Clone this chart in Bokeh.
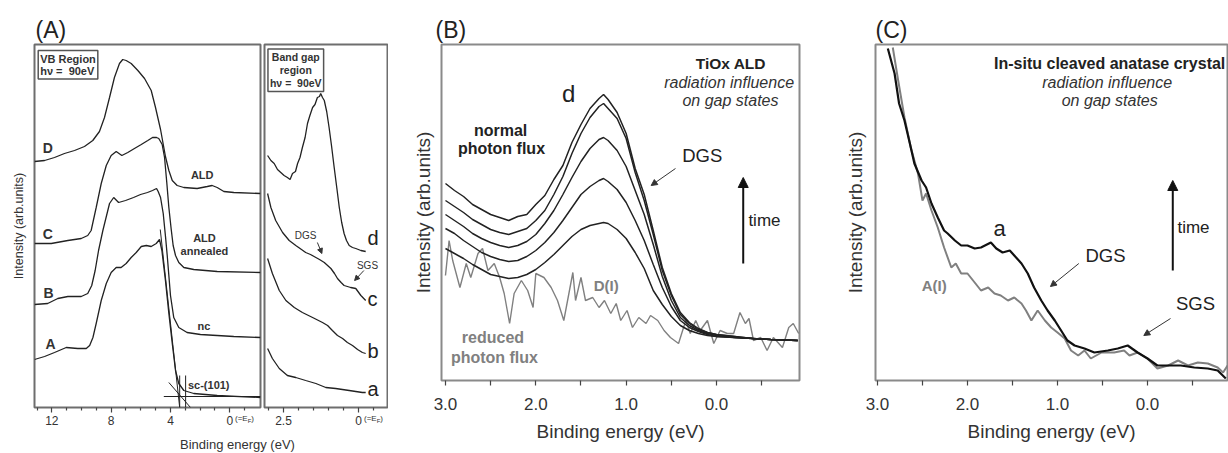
from bokeh.plotting import figure
from bokeh.models import (Range1d, FixedTicker, Label, Arrow, NormalHead, Div,
                          CustomJSTickFormatter, PrintfTickFormatter)
from bokeh.layouts import row, column
from bokeh.embed import file_html
from bokeh.resources import INLINE

FONT = "Liberation Sans"

# ---------------- Panel A : VB region (binding energy eV, intensity arb.) -------------
VB_D_E = [13.17, 12.49, 11.82, 11.15, 10.47, 9.80, 9.24, 8.79, 8.45, 8.11, 7.78, 7.44, 7.22, 6.99,
          6.65, 6.20, 5.75, 5.30, 5.01, 4.67, 4.34, 4.11, 3.88, 3.55, 3.10, 2.20, 1.52, 1.19, 0.85,
          0.40, -0.27, -2.07]
VB_D_I = [246, 247, 250, 254, 257, 261, 267, 276, 290, 310, 330, 344, 348, 347,
          344, 337, 329, 317, 300, 278, 251, 237, 227, 222, 220, 219, 221, 222, 220,
          216, 215, 214]

VB_C_E = [13.17, 12.04, 10.92, 10.02, 9.58, 9.35, 9.01, 8.67, 8.33, 8.00, 7.66, 7.28, 6.88, 6.43,
          5.97, 5.53, 5.21, 4.94, 4.79, 4.56, 4.40, 4.25, 4.11, 3.95, 3.82, 3.66, 3.44, 3.10,
          2.43, 0.85, -2.07]
VB_C_I = [164, 164, 167, 169, 172, 177, 200, 224, 242, 252, 256, 252, 255, 259,
          263, 267, 270, 270, 269, 263, 250, 225, 200, 178, 162, 152, 145, 140,
          138, 136, 135]

VB_B_E = [13.17, 12.28, 11.60, 10.92, 10.02, 9.58, 9.31, 9.08, 8.85, 8.56, 8.11, 7.83, 7.50, 7.03,
          6.49, 6.02, 5.55, 5.21, 4.94, 4.83, 4.67, 4.49, 4.33, 4.22, 4.11, 4.00, 3.78, 3.44,
          2.88, 1.98, -0.27, -2.07]
VB_B_I = [103, 104, 109, 111, 111, 114, 122, 137, 157, 177, 204, 210, 205, 207,
          210, 213, 215, 217, 219, 216, 210, 194, 170, 152, 132, 112, 90, 80,
          75, 73, 71, 70]

VB_A_E = [13.17, 12.49, 11.82, 11.03, 10.25, 9.68, 9.45, 9.23, 9.01, 8.67, 8.33, 8.00, 7.66, 7.33,
          6.99, 6.65, 6.31, 5.97, 5.63, 5.30, 4.96, 4.74, 4.58, 4.34, 4.11, 3.88, 3.66, 3.44,
          3.10, 2.43, 0.85, -2.07]
VB_A_I = [48, 51, 55, 60, 59, 59, 62, 70, 84, 107, 124, 135, 140, 140,
          144, 150, 155, 161, 162, 161, 164, 168, 157, 127, 94, 64, 37, 24,
          17, 14, 12, 10]

# linear extrapolations of the sc-(101) leading edge
EDGE_FIT_E = [4.69, 3.38]
EDGE_FIT_I = [178, 0]
TANGENT_E = [4.11, 2.65]
TANGENT_I = [25, 0]
BASELINE_E = [4.45, -2.07]
BASELINE_I = [11, 11]
MARK1_E = [3.38, 3.38]
MARK2_E = [2.98, 2.98]
MARK_I = [32, 0]

VB_TICKS = [12, 8, 4, 0]
VB_MINOR = [13, 11, 10, 9, 7, 6, 5, 3, 2, 1, -1]

# ---------------- Panel A : band gap region -------------
BG_D_E = [3.03, 2.92, 2.81, 2.70, 2.59, 2.48, 2.37, 2.28, 2.20, 2.10, 2.03, 1.95, 1.87, 1.78, 1.70,
          1.62, 1.53, 1.45, 1.37, 1.30, 1.26, 1.20, 1.14, 1.06, 0.98, 0.90, 0.81, 0.72, 0.64,
          0.56, 0.48, 0.40, 0.31, 0.20, 0.09, -0.08, -0.24]
BG_D_I = [252, 247, 244, 238, 235, 232, 230, 228, 234, 236, 244, 250, 260, 270, 284,
          292, 300, 303, 310, 311, 314, 310, 307, 296, 280, 262, 240, 219, 200,
          185, 174, 167, 162, 160, 159, 157, 156]
BG_C_E = [3.03, 2.92, 2.76, 2.53, 2.31, 2.09, 1.90, 1.76, 1.60, 1.42, 1.30, 1.14, 1.03, 0.92, 0.80,
          0.70, 0.58, 0.48, 0.37, 0.26, 0.09, -0.08, -0.24]
BG_C_I = [214, 200, 187, 175, 167, 162, 158, 155, 153, 150, 148, 145, 142, 139, 134,
          129, 125, 122, 121, 120, 119, 112, 107]
BG_B_E = [3.03, 2.87, 2.64, 2.42, 2.14, 1.87, 1.53, 1.20, 1.03, 0.87, 0.70, 0.53, 0.37, 0.20,
          0.03, -0.13, -0.24]
BG_B_I = [149, 134, 117, 107, 100, 95, 90, 85, 82, 77, 72, 69, 65, 62,
          58, 55, 54]
BG_A_E = [3.03, 2.87, 2.64, 2.37, 2.09, 1.76, 1.42, 1.09, 0.76, 0.31, -0.13, -0.24]
BG_A_I = [59, 49, 39, 32, 30, 27, 24, 20, 19, 17, 15, 15]
BG_TICKS = [2.5, 0]
BG_MINOR = [3.0, 2.0, 1.5, 1.0, 0.5, -0.5]

# ---------------- Panel B : TiOx ALD, spectra in time -------------
B_E = [3.0, 2.9, 2.8, 2.7, 2.6, 2.5, 2.4, 2.3, 2.2, 2.1, 2.0, 1.9, 1.8, 1.7, 1.6, 1.5, 1.4, 1.3,
       1.25, 1.2, 1.1, 1.0, 0.9, 0.8, 0.7, 0.6, 0.5, 0.4, 0.3, 0.2, 0.1, 0.0, -0.2, -0.4, -0.6, -0.9]
B_S1 = [197, 190, 184, 176, 171, 166, 163, 160, 164, 166, 176, 185, 201, 215, 238, 256, 272, 282,
        286, 281, 268, 247, 212, 186, 150, 113, 87, 68, 58, 52, 48, 46, 44, 42, 41, 40]
B_S2 = [180, 174, 168, 161, 156, 151, 148, 146, 149, 152, 160, 170, 186, 204, 227, 247, 263, 274,
        277, 272, 262, 242, 208, 180, 146, 110, 85, 66, 57, 51, 48, 46, 44, 42, 41, 40]
B_S3 = [166, 160, 154, 147, 142, 138, 135, 133, 135, 139, 146, 157, 170, 186, 203, 219, 232, 241,
        243, 240, 230, 214, 190, 166, 136, 104, 80, 63, 55, 50, 47, 45, 43, 42, 41, 40]
B_S4 = [152, 147, 140, 134, 128, 124, 121, 119, 120, 124, 130, 138, 148, 160, 173, 186, 194, 200,
        202, 199, 191, 178, 160, 140, 116, 93, 74, 60, 53, 49, 46, 44, 43, 42, 41, 40]
B_S5 = [132, 127, 122, 116, 111, 106, 104, 102, 103, 106, 111, 118, 126, 135, 144, 151, 155, 157,
        158, 157, 151, 142, 128, 112, 90, 76, 64, 55, 50, 47, 45, 44, 43, 42, 41, 40]
B_DI_E = [3.00, 2.96, 2.92, 2.84, 2.77, 2.72, 2.64, 2.59, 2.53, 2.46, 2.40, 2.35, 2.29, 2.24, 2.16,
          2.09, 2.03, 2.00, 1.91, 1.83, 1.76, 1.69, 1.59, 1.56, 1.50, 1.45, 1.37, 1.30, 1.24, 1.17,
          1.11, 1.06, 0.99, 0.93, 0.86, 0.78, 0.73, 0.65, 0.58, 0.51, 0.42, 0.34, 0.29, 0.23, 0.18,
          0.10, 0.03, -0.04, -0.12, -0.19, -0.26, -0.32, -0.36, -0.41, -0.49, -0.56, -0.63, -0.73,
          -0.80, -0.85, -0.91]
B_DI_I = [105, 140, 120, 93, 117, 103, 127, 132, 110, 117, 103, 87, 57, 87, 100,
          90, 73, 107, 103, 93, 80, 60, 108, 80, 103, 80, 83, 73, 80, 67,
          77, 60, 70, 53, 63, 57, 65, 60, 50, 43, 37, 60, 47, 60, 50,
          60, 37, 50, 47, 47, 68, 57, 62, 40, 43, 30, 43, 33,
          53, 57, 47]
B_TICKS = [3, 2, 1, 0]
B_MINOR = [2.5, 1.5, 0.5, -0.5]

# ---------------- Panel C : in-situ cleaved anatase -------------
C_A_E = [2.885, 2.81, 2.76, 2.70, 2.64, 2.59, 2.51, 2.46, 2.40, 2.33, 2.26, 2.22, 2.14, 2.07, 2.00,
         1.92, 1.85, 1.74, 1.68, 1.61, 1.53, 1.48, 1.40, 1.33, 1.26, 1.18, 1.11, 1.03, 0.96, 0.89,
         0.81, 0.70, 0.59, 0.44, 0.33, 0.22, 0.11, 0.00, -0.11, -0.23, -0.37, -0.52, -0.67, -0.78,
         -0.87]
C_A_I = [332, 307, 277, 260, 237, 217, 200, 193, 177, 163, 150, 147, 140, 135, 135,
         132, 133, 138, 132, 128, 130, 125, 117, 107, 93, 80, 70, 60, 50, 40,
         35, 32, 28, 30, 32, 35, 28, 22, 15, 15, 15, 13, 12, 10,
         2]
C_AI_E = [2.83, 2.77, 2.70, 2.63, 2.55, 2.50, 2.46, 2.40, 2.33, 2.26, 2.18, 2.13, 2.07, 2.00, 1.92,
          1.85, 1.77, 1.70, 1.63, 1.55, 1.48, 1.40, 1.35, 1.29, 1.22, 1.14, 1.07, 1.00, 0.92, 0.85,
          0.77, 0.70, 0.63, 0.51, 0.37, 0.26, 0.20, 0.11, 0.00, -0.11, -0.23, -0.34, -0.45, -0.56,
          -0.67, -0.78, -0.84, -0.89]
C_AI_I = [333, 300, 263, 233, 207, 180, 187, 170, 153, 133, 113, 117, 107, 107, 98,
          90, 93, 87, 85, 80, 83, 77, 70, 60, 70, 60, 53, 48, 42, 30,
          25, 30, 22, 28, 28, 30, 25, 28, 22, 12, 15, 20, 15, 18,
          17, 13, 8, 15]
C_TICKS = [3, 2, 1, 0]
C_MINOR = [2.5, 1.5, 0.5, -0.5]

INK = "#222222"
GREY = "#808080"
TXT = "#333333"
NB = "\u00a0"


def make_fig(width, height, xr, yr, bl, br, bt, bb, outline="#6e6e6e"):
    p = figure(width=width, height=height, x_range=Range1d(*xr), y_range=Range1d(*yr),
               output_backend="svg", toolbar_location=None,
               min_border_left=bl, min_border_right=br, min_border_top=bt, min_border_bottom=bb)
    p.grid.visible = False
    p.outline_line_color = outline
    p.outline_line_width = 2
    return p


def panel_title(p, text, offset):
    p.title.text = text
    p.title.text_font = FONT
    p.title.text_font_size = "23px"
    p.title.text_font_style = "normal"
    p.title.text_color = "#222"
    p.title.align = "left"
    p.title.offset = offset
    p.title.standoff = 4


def style_x(p, ticks, minor, size, standoff, minor_len, formatter):
    ax = p.xaxis[0]
    ax.ticker = FixedTicker(ticks=ticks, minor_ticks=minor)
    ax.formatter = formatter
    ax.axis_line_color = None
    ax.major_tick_in = 0
    ax.major_tick_out = 5
    ax.minor_tick_in = 0
    ax.minor_tick_out = minor_len
    ax.major_tick_line_color = "#444"
    ax.minor_tick_line_color = "#444"
    ax.major_tick_line_width = 1.2
    ax.minor_tick_line_width = 1.2
    ax.major_label_text_font = FONT
    ax.major_label_text_font_size = f"{size}px"
    ax.major_label_text_color = TXT
    ax.major_label_standoff = standoff


def style_y(p, label, size, standoff):
    ay = p.yaxis[0]
    ay.ticker = FixedTicker(ticks=[])
    ay.axis_line_color = None
    ay.major_tick_out = 0
    ay.minor_tick_out = 0
    ay.major_label_standoff = 0
    ay.axis_label = label
    ay.axis_label_text_font = FONT
    ay.axis_label_text_font_size = f"{size}px"
    ay.axis_label_text_font_style = "normal"
    ay.axis_label_text_color = TXT
    ay.axis_label_standoff = standoff


def lab(p, x, y, text, size, style="normal", color=TXT, align="center", baseline="middle", **kw):
    p.add_layout(Label(x=x, y=y, text=text, text_font=FONT, text_font_size=f"{size}px",
                       text_font_style=style, text_color=color, text_align=align,
                       text_baseline=baseline, **kw))


def arrow(p, x0, y0, x1, y1, size=7, width=1.0, color="#333"):
    p.add_layout(Arrow(end=NormalHead(size=size, line_color=color, fill_color=color, line_width=1),
                       x_start=x0, y_start=y0, x_end=x1, y_end=y1,
                       line_color=color, line_width=width))


def xlabel(p, text, size, standoff):
    ax = p.xaxis[0]
    ax.axis_label = text
    ax.axis_label_text_font = FONT
    ax.axis_label_text_font_size = f"{size}px"
    ax.axis_label_text_font_style = "normal"
    ax.axis_label_text_color = TXT
    ax.axis_label_standoff = standoff


# ======================= Panel A, VB part =======================
fA1 = make_fig(262, 433, (13.17, -2.07), (0, 363), 34, 2, 44, 26)
panel_title(fA1, "(A)", 1)
style_x(fA1, VB_TICKS, VB_MINOR, 12, 3, 3,
        CustomJSTickFormatter(code="return tick.toFixed(0);"))
style_y(fA1, "Intensity (arb.units)", 12.5, 9)
for xs, ys in [(VB_D_E, VB_D_I), (VB_C_E, VB_C_I), (VB_B_E, VB_B_I), (VB_A_E, VB_A_I)]:
    fA1.line(xs, ys, line_color=INK, line_width=1.3)
for xs, ys in [(EDGE_FIT_E, EDGE_FIT_I), (TANGENT_E, TANGENT_I), (BASELINE_E, BASELINE_I),
               (MARK1_E, MARK_I), (MARK2_E, MARK_I)]:
    fA1.line(xs, ys, line_color=INK, line_width=1.0)

lab(fA1, 12.92, 357, "VB Region\nh\u03bd =" + NB + NB + "90eV", 11, "bold", align="left",
    baseline="top", border_line_color="#555", border_line_width=1.5,
    background_fill_color="white", padding=2, text_line_height=1.05)
lab(fA1, 12.27, 260, "D", 14, "bold")
lab(fA1, 12.27, 174, "C", 14, "bold")
lab(fA1, 12.23, 115, "B", 14, "bold")
lab(fA1, 12.09, 64, "A", 14, "bold")
lab(fA1, 1.86, 233, "ALD", 11, "bold")
lab(fA1, 1.71, 176, "ALD\nannealed", 11, "bold", baseline="top", text_line_height=1.1)
lab(fA1, 1.75, 82, "nc", 11, "bold")
lab(fA1, 1.42, 23, "sc-(101)", 11, "bold")

# ======================= Panel A, band gap part =======================
fA2 = make_fig(126, 433, (3.133, -0.967), (0, 363), 2, 1, 44, 26)
fA2.yaxis.visible = False
style_x(fA2, BG_TICKS, BG_MINOR, 12, 3, 3,
        CustomJSTickFormatter(code="return tick == 0 ? '0' : tick.toFixed(1);"))
for xs, ys in [(BG_D_E, BG_D_I), (BG_C_E, BG_C_I), (BG_B_E, BG_B_I), (BG_A_E, BG_A_I)]:
    fA2.line(xs, ys, line_color=INK, line_width=1.3)
lab(fA2, 2.09, 358.5, "Band gap\nregion\nh\u03bd =" + NB + NB + "90eV", 10.5, "bold",
    baseline="top", border_line_color="#555", border_line_width=1.5,
    background_fill_color="white", padding=2, text_line_height=1.1)
for yy, t in [(170, "d"), (109, "c"), (57, "b"), (19, "a")]:
    lab(fA2, -0.30, yy, t, 20, color="#222", align="left")
lab(fA2, 1.76, 172, "DGS", 10)
arrow(fA2, 1.37, 165, 1.22, 154, size=5)
lab(fA2, -0.30, 142, "SGS", 10)
arrow(fA2, -0.18, 137, 0.13, 127, size=5)

EF = ('<span style="position:absolute; top:-19px; font-size:8px; line-height:9px; '
      'white-space:nowrap; left:{}px;">(=E<span style="font-size:6px; position:relative; '
      'top:2px;">F</span>)</span>')
divA = Div(
    text=('<div style="position:relative; width:388px; height:20px; overflow:visible; '
          'font-family:\'Liberation Sans\'; color:#333;">'
          + EF.format(235) + EF.format(364) +
          '<span style="position:absolute; left:180px; top:4px; font-size:13px; '
          'white-space:nowrap; line-height:15px;">Binding energy (eV)</span></div>'),
    width=388, height=20, margin=(0, 0, 0, 0), styles={"overflow": "visible"})

# ======================= Panel B =======================
fB = make_fig(442, 453, (3.044, -0.919), (0, 336), 53, 31, 44, 73, outline="#8a8a8a")
panel_title(fB, "(B)", -6)
style_x(fB, B_TICKS, B_MINOR, 17, 12, 5, PrintfTickFormatter(format="%.1f"))
xlabel(fB, "Binding energy (eV)", 19, 8)
style_y(fB, "Intensity (arb.units)", 19, 8)
fB.line(B_DI_E, B_DI_I, line_color=GREY, line_width=1.4)
for s in [B_S1, B_S2, B_S3, B_S4, B_S5]:
    fB.line(B_E, s, line_color=INK, line_width=1.5)
lab(fB, 1.635, 287, "d", 24, color="#222")
lab(fB, -0.16, 317, "TiOx ALD", 15.5, "bold", color="#222")
lab(fB, -0.14, 298, "radiation influence", 16, "italic")
lab(fB, -0.155, 280, "on gap states", 16, "italic")
lab(fB, 2.39, 250, "normal", 16, "bold", color="#222")
lab(fB, 2.38, 232, "photon flux", 16, "bold", color="#222")
lab(fB, 0.158, 225, "DGS", 18.5, color="#222")
arrow(fB, 0.454, 212, 0.723, 195, size=6)
arrow(fB, -0.296, 117, -0.296, 203, size=10, width=2, color="#111")
lab(fB, -0.531, 160, "time", 17, color="#222")
lab(fB, 1.221, 95, "D(I)", 15, "bold", color=GREY)
lab(fB, 2.474, 43, "reduced", 16, "bold", color=GREY)
lab(fB, 2.458, 23, "photon flux", 16, "bold", color=GREY)

# ======================= Panel C =======================
fC = make_fig(398, 453, (3.022, -0.889), (0, 336), 45, 1, 44, 73, outline="#8a8a8a")
panel_title(fC, "(C)", 0)
style_x(fC, C_TICKS, C_MINOR, 17, 12, 5, PrintfTickFormatter(format="%.1f"))
xlabel(fC, "Binding energy (eV)", 19, 8)
style_y(fC, "Intensity (arb.units)", 19, 10)
fC.line(C_AI_E, C_AI_I, line_color=GREY, line_width=2)
fC.line(C_A_E, C_A_I, line_color="#111111", line_width=2.2)
lab(fC, 0.42, 317, "In-situ cleaved anatase crystal", 16, "bold", color="#222")
lab(fC, 0.448, 298, "radiation influence", 16, "italic")
lab(fC, 0.42, 280, "on gap states", 16, "italic")
lab(fC, 1.644, 152, "a", 22, color="#222")
lab(fC, 2.37, 95, "A(I)", 15, "bold", color=GREY)
lab(fC, 0.467, 125, "DGS", 18.5, color="#222")
arrow(fC, 0.763, 117, 1.078, 94, size=6)
lab(fC, -0.533, 77, "SGS", 18.5, color="#222")
arrow(fC, -0.256, 62, 0.041, 45, size=6)
arrow(fC, -0.281, 110, -0.281, 200, size=10, width=2, color="#111")
lab(fC, -0.511, 153, "time", 17, color="#222")

layout = row(column(row(fA1, fA2), divA), fB, fC)
open("out.html", "w").write(file_html(layout, INLINE))
